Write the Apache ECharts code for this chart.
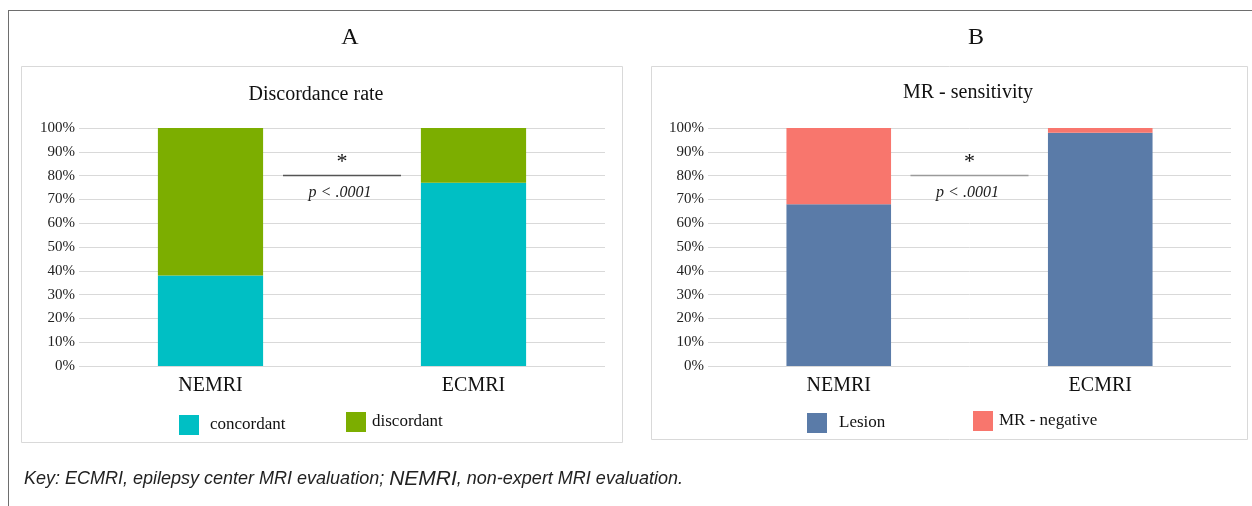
<!DOCTYPE html>
<html>
<head>
<meta charset="utf-8">
<script src="https://cdn.jsdelivr.net/npm/echarts/dist/echarts.min.js"></script>
<style>
html,body{margin:0;padding:0;background:#fff;}
#c{width:1252px;height:506px;}
</style>
</head>
<body>
<div id="c"></div>
<script>
// ---- data ----
const categories = ['NEMRI', 'ECMRI'];
const concordant = [38, 77];
const discordant = [62, 23];
const lesion = [68, 98];
const mrNegative = [32, 2];
const yTicks = [0, 10, 20, 30, 40, 50, 60, 70, 80, 90, 100];
const pText = 'p < .0001';

const SERIF = '"Liberation Serif","Times New Roman",serif';
const chart = echarts.init(document.getElementById('c'), null, {renderer: 'canvas'});

function yAxis(idx) {
  return {
    type: 'value', gridIndex: idx, min: yTicks[0], max: yTicks[yTicks.length - 1], interval: 10,
    axisLine: {show: false}, axisTick: {show: false},
    axisLabel: {formatter: '{value}%', fontFamily: SERIF, fontSize: 15, color: '#222', margin: 4},
    splitLine: {lineStyle: {color: '#d9d9d9', width: 1}}
  };
}
function xAxis(idx) {
  return {
    type: 'category', gridIndex: idx, data: categories,
    axisLine: {show: false}, axisTick: {show: false},
    axisLabel: {fontFamily: SERIF, fontSize: 20, color: '#111', margin: 10}
  };
}
function legend(left, top, name, pad) {
  return {
    left: left, top: top, padding: 0, icon: 'rect', itemWidth: 20, itemHeight: 20,
    data: [name],
    textStyle: {fontFamily: SERIF, fontSize: 17, color: '#111', padding: [0, 0, 0, pad]}
  };
}

chart.setOption({
  animation: false,
  backgroundColor: '#fff',
  grid: [
    {left: 79, right: 1252 - 605, top: 128, bottom: 506 - 366},
    {left: 708, right: 1252 - 1231, top: 128, bottom: 506 - 366}
  ],
  xAxis: [xAxis(0), xAxis(1)],
  yAxis: [yAxis(0), yAxis(1)],
  legend: [
    legend(179, 415, 'concordant', 6),
    legend(346, 412, 'discordant', 1),
    legend(807, 413, 'Lesion', 7),
    legend(973, 411, 'MR - negative', 1)
  ],
  series: [
    {name: 'concordant', type: 'bar', stack: 'a', xAxisIndex: 0, yAxisIndex: 0, data: concordant,
     barCategoryGap: '60%', itemStyle: {color: '#00BFC4'}},
    {name: 'discordant', type: 'bar', stack: 'a', xAxisIndex: 0, yAxisIndex: 0, data: discordant,
     barCategoryGap: '60%', itemStyle: {color: '#7CAE00'}},
    {name: 'Lesion', type: 'bar', stack: 'b', xAxisIndex: 1, yAxisIndex: 1, data: lesion,
     barCategoryGap: '60%', itemStyle: {color: '#5A7BA8'}},
    {name: 'MR - negative', type: 'bar', stack: 'b', xAxisIndex: 1, yAxisIndex: 1, data: mrNegative,
     barCategoryGap: '60%', itemStyle: {color: '#F8766D'}}
  ]
});

// annotations positioned through the chart scales
function sigGroup(gridIdx, lineColor) {
  const p0 = chart.convertToPixel({xAxisIndex: gridIdx, yAxisIndex: gridIdx}, [0, 80]);
  const p1 = chart.convertToPixel({xAxisIndex: gridIdx, yAxisIndex: gridIdx}, [1, 80]);
  const mid = (p0[0] + p1[0]) / 2;
  const y = p0[1];
  return [
    {type: 'line', shape: {x1: mid - 59, y1: y, x2: mid + 59, y2: y},
     style: {stroke: lineColor, lineWidth: 1.5}, z: 100},
    {type: 'text', x: mid, y: y - 13, style: {text: '*', font: '22px ' + SERIF, fill: '#111',
     align: 'center', verticalAlign: 'middle'}, z: 100},
    {type: 'text', x: mid - 2, y: y + 17, style: {text: pText, font: 'italic 16px ' + SERIF, fill: '#222',
     align: 'center', verticalAlign: 'middle'}, z: 100}
  ];
}

chart.setOption({
  graphic: [
    // outer frame
    {type: 'line', shape: {x1: 8, y1: 10.5, x2: 1252, y2: 10.5}, style: {stroke: '#6e6e6e', lineWidth: 1}},
    {type: 'line', shape: {x1: 8.5, y1: 10, x2: 8.5, y2: 506}, style: {stroke: '#6e6e6e', lineWidth: 1}},
    // panel boxes
    {type: 'rect', shape: {x: 21.5, y: 66.5, width: 601, height: 376}, style: {fill: 'none', stroke: '#d9d9d9', lineWidth: 1}, z: -1},
    {type: 'rect', shape: {x: 651.5, y: 66.5, width: 596, height: 373}, style: {fill: 'none', stroke: '#d9d9d9', lineWidth: 1}, z: -1},
    // panel letters
    {type: 'text', x: 350, y: 38, style: {text: 'A', font: '24px ' + SERIF, fill: '#111', align: 'center', verticalAlign: 'middle'}},
    {type: 'text', x: 976, y: 38, style: {text: 'B', font: '24px ' + SERIF, fill: '#111', align: 'center', verticalAlign: 'middle'}},
    // chart titles
    {type: 'text', x: 316, y: 95, style: {text: 'Discordance rate', font: '20px ' + SERIF, fill: '#111', align: 'center', verticalAlign: 'middle'}},
    {type: 'text', x: 968, y: 93, style: {text: 'MR - sensitivity', font: '20px ' + SERIF, fill: '#111', align: 'center', verticalAlign: 'middle'}},
    // footer
    {type: 'text', x: 24, y: 479, style: {
      text: 'Key: ECMRI, epilepsy center MRI evaluation; {b|NEMRI}, non-expert MRI evaluation.',
      font: 'italic 18px "Liberation Sans", Arial, sans-serif', fill: '#222', verticalAlign: 'middle',
      rich: {b: {fontSize: 21, fontStyle: 'italic', fontFamily: '"Liberation Sans", Arial, sans-serif', fill: '#222'}}
    }},
    ...sigGroup(0, '#555555'),
    ...sigGroup(1, '#9a9a9a')
  ]
});
</script>
</body>
</html>
